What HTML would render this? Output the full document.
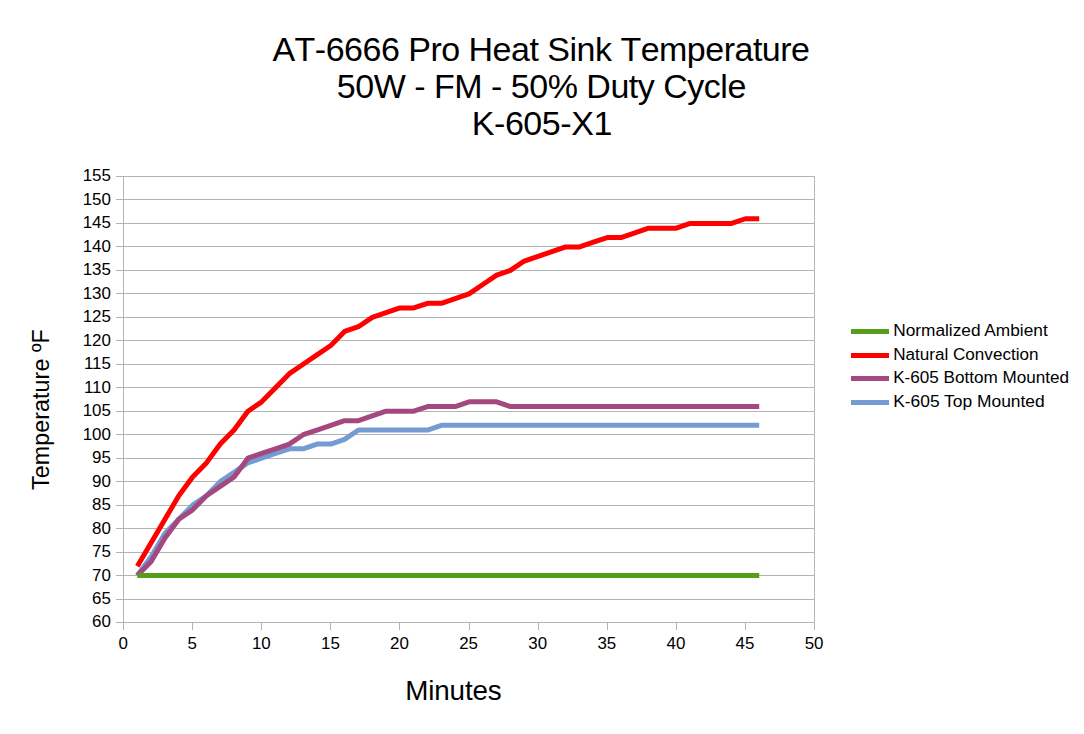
<!DOCTYPE html>
<html lang="en"><head><meta charset="utf-8"><title>AT-6666 Pro Heat Sink Temperature</title>
<style>
html,body{margin:0;padding:0;background:#fff;}
body{width:1084px;height:734px;overflow:hidden;}
svg{display:block;font-family:"Liberation Sans",Arial,sans-serif;fill:#000;}
.ax{font-size:16.6px;}
.lg{font-size:16px;}
</style></head><body>
<svg width="1084" height="734" viewBox="0 0 1084 734">
<rect width="1084" height="734" fill="#fff"/>

<g font-size="34">
<text x="272.4" y="60.8" textLength="537.6" lengthAdjust="spacing" style="font-kerning:none">AT-6666 Pro Heat Sink Temperature</text>
<text x="336.8" y="97.6" textLength="409.5" lengthAdjust="spacing">50W - FM - 50% Duty Cycle</text>
<text x="471.8" y="134.6" textLength="140.5" lengthAdjust="spacing">K-605-X1</text>
</g>

<g stroke="#b3b3b3" stroke-width="1" fill="none" shape-rendering="crispEdges">
<line x1="116.0" y1="622.50" x2="814.5" y2="622.50"/>
<line x1="116.0" y1="599.03" x2="814.5" y2="599.03"/>
<line x1="116.0" y1="575.55" x2="814.5" y2="575.55"/>
<line x1="116.0" y1="552.08" x2="814.5" y2="552.08"/>
<line x1="116.0" y1="528.61" x2="814.5" y2="528.61"/>
<line x1="116.0" y1="505.13" x2="814.5" y2="505.13"/>
<line x1="116.0" y1="481.66" x2="814.5" y2="481.66"/>
<line x1="116.0" y1="458.18" x2="814.5" y2="458.18"/>
<line x1="116.0" y1="434.71" x2="814.5" y2="434.71"/>
<line x1="116.0" y1="411.24" x2="814.5" y2="411.24"/>
<line x1="116.0" y1="387.76" x2="814.5" y2="387.76"/>
<line x1="116.0" y1="364.29" x2="814.5" y2="364.29"/>
<line x1="116.0" y1="340.82" x2="814.5" y2="340.82"/>
<line x1="116.0" y1="317.34" x2="814.5" y2="317.34"/>
<line x1="116.0" y1="293.87" x2="814.5" y2="293.87"/>
<line x1="116.0" y1="270.39" x2="814.5" y2="270.39"/>
<line x1="116.0" y1="246.92" x2="814.5" y2="246.92"/>
<line x1="116.0" y1="223.45" x2="814.5" y2="223.45"/>
<line x1="116.0" y1="199.97" x2="814.5" y2="199.97"/>
<line x1="116.0" y1="176.50" x2="814.5" y2="176.50"/>
<line x1="123.50" y1="622.5" x2="123.50" y2="629.5"/>
<line x1="192.60" y1="622.5" x2="192.60" y2="629.5"/>
<line x1="261.70" y1="622.5" x2="261.70" y2="629.5"/>
<line x1="330.80" y1="622.5" x2="330.80" y2="629.5"/>
<line x1="399.90" y1="622.5" x2="399.90" y2="629.5"/>
<line x1="469.00" y1="622.5" x2="469.00" y2="629.5"/>
<line x1="538.10" y1="622.5" x2="538.10" y2="629.5"/>
<line x1="607.20" y1="622.5" x2="607.20" y2="629.5"/>
<line x1="676.30" y1="622.5" x2="676.30" y2="629.5"/>
<line x1="745.40" y1="622.5" x2="745.40" y2="629.5"/>
<line x1="814.50" y1="622.5" x2="814.50" y2="629.5"/>
<line x1="123.5" y1="176.5" x2="123.5" y2="629.5"/>
<line x1="814.5" y1="176.5" x2="814.5" y2="629.5"/>
</g>

<g class="ax" text-anchor="end">
<text transform="translate(110.9,627) scale(1.02,1)">60</text>
<text transform="translate(110.9,604) scale(1.02,1)">65</text>
<text transform="translate(110.9,581) scale(1.02,1)">70</text>
<text transform="translate(110.9,557) scale(1.02,1)">75</text>
<text transform="translate(110.9,534) scale(1.02,1)">80</text>
<text transform="translate(110.9,510) scale(1.02,1)">85</text>
<text transform="translate(110.9,487) scale(1.02,1)">90</text>
<text transform="translate(110.9,463) scale(1.02,1)">95</text>
<text transform="translate(110.9,440) scale(1.02,1)">100</text>
<text transform="translate(110.9,416) scale(1.02,1)">105</text>
<text transform="translate(110.9,393) scale(1.02,1)">110</text>
<text transform="translate(110.9,369) scale(1.02,1)">115</text>
<text transform="translate(110.9,346) scale(1.02,1)">120</text>
<text transform="translate(110.9,322) scale(1.02,1)">125</text>
<text transform="translate(110.9,299) scale(1.02,1)">130</text>
<text transform="translate(110.9,275) scale(1.02,1)">135</text>
<text transform="translate(110.9,252) scale(1.02,1)">140</text>
<text transform="translate(110.9,228) scale(1.02,1)">145</text>
<text transform="translate(110.9,205) scale(1.02,1)">150</text>
<text transform="translate(110.9,181) scale(1.02,1)">155</text>
</g>

<g class="ax" text-anchor="middle">
<text transform="translate(123.1,649) scale(1.02,1)">0</text>
<text transform="translate(192.2,649) scale(1.02,1)">5</text>
<text transform="translate(261.3,649) scale(1.02,1)">10</text>
<text transform="translate(330.4,649) scale(1.02,1)">15</text>
<text transform="translate(399.5,649) scale(1.02,1)">20</text>
<text transform="translate(468.6,649) scale(1.02,1)">25</text>
<text transform="translate(537.7,649) scale(1.02,1)">30</text>
<text transform="translate(606.8,649) scale(1.02,1)">35</text>
<text transform="translate(675.9,649) scale(1.02,1)">40</text>
<text transform="translate(745.0,649) scale(1.02,1)">45</text>
<text transform="translate(814.1,649) scale(1.02,1)">50</text>
</g>

<g fill="none" stroke-width="5" stroke-linejoin="round" stroke-linecap="butt">
<polyline stroke="#749bd2" points="137.32,575.55 151.14,556.77 164.96,533.30 178.78,519.22 192.60,505.13 206.42,495.74 220.24,481.66 234.06,472.27 247.88,462.88 261.70,458.18 275.52,453.49 289.34,448.79 303.16,448.79 316.98,444.10 330.80,444.10 344.62,439.41 358.44,430.02 372.26,430.02 386.08,430.02 399.90,430.02 413.72,430.02 427.54,430.02 441.36,425.32 455.18,425.32 469.00,425.32 482.82,425.32 496.64,425.32 510.46,425.32 524.28,425.32 538.10,425.32 551.92,425.32 565.74,425.32 579.56,425.32 593.38,425.32 607.20,425.32 621.02,425.32 634.84,425.32 648.66,425.32 662.48,425.32 676.30,425.32 690.12,425.32 703.94,425.32 717.76,425.32 731.58,425.32 745.40,425.32 759.22,425.32"/>
<polyline stroke="#a54880" points="137.32,575.55 151.14,561.47 164.96,537.99 178.78,519.22 192.60,509.83 206.42,495.74 220.24,486.35 234.06,476.96 247.88,458.18 261.70,453.49 275.52,448.79 289.34,444.10 303.16,434.71 316.98,430.02 330.80,425.32 344.62,420.63 358.44,420.63 372.26,415.93 386.08,411.24 399.90,411.24 413.72,411.24 427.54,406.54 441.36,406.54 455.18,406.54 469.00,401.85 482.82,401.85 496.64,401.85 510.46,406.54 524.28,406.54 538.10,406.54 551.92,406.54 565.74,406.54 579.56,406.54 593.38,406.54 607.20,406.54 621.02,406.54 634.84,406.54 648.66,406.54 662.48,406.54 676.30,406.54 690.12,406.54 703.94,406.54 717.76,406.54 731.58,406.54 745.40,406.54 759.22,406.54"/>
<polyline stroke="#ff0000" points="137.32,566.16 151.14,542.69 164.96,519.22 178.78,495.74 192.60,476.96 206.42,462.88 220.24,444.10 234.06,430.02 247.88,411.24 261.70,401.85 275.52,387.76 289.34,373.68 303.16,364.29 316.98,354.90 330.80,345.51 344.62,331.43 358.44,326.73 372.26,317.34 386.08,312.65 399.90,307.95 413.72,307.95 427.54,303.26 441.36,303.26 455.18,298.56 469.00,293.87 482.82,284.48 496.64,275.09 510.46,270.39 524.28,261.01 538.10,256.31 551.92,251.62 565.74,246.92 579.56,246.92 593.38,242.23 607.20,237.53 621.02,237.53 634.84,232.84 648.66,228.14 662.48,228.14 676.30,228.14 690.12,223.45 703.94,223.45 717.76,223.45 731.58,223.45 745.40,218.75 759.22,218.75"/>
<polyline stroke="#579d1c" points="137.32,575.55 151.14,575.55 164.96,575.55 178.78,575.55 192.60,575.55 206.42,575.55 220.24,575.55 234.06,575.55 247.88,575.55 261.70,575.55 275.52,575.55 289.34,575.55 303.16,575.55 316.98,575.55 330.80,575.55 344.62,575.55 358.44,575.55 372.26,575.55 386.08,575.55 399.90,575.55 413.72,575.55 427.54,575.55 441.36,575.55 455.18,575.55 469.00,575.55 482.82,575.55 496.64,575.55 510.46,575.55 524.28,575.55 538.10,575.55 551.92,575.55 565.74,575.55 579.56,575.55 593.38,575.55 607.20,575.55 621.02,575.55 634.84,575.55 648.66,575.55 662.48,575.55 676.30,575.55 690.12,575.55 703.94,575.55 717.76,575.55 731.58,575.55 745.40,575.55 759.22,575.55"/>
</g>

<g class="lg">
<line x1="851" y1="331.5" x2="889" y2="331.5" stroke="#579d1c" stroke-width="5"/>
<text x="893.2" y="336.3" textLength="154.5" lengthAdjust="spacingAndGlyphs">Normalized Ambient</text>
<line x1="851" y1="355.5" x2="889" y2="355.5" stroke="#ff0000" stroke-width="5"/>
<text x="893.2" y="360.3" textLength="145.3" lengthAdjust="spacingAndGlyphs">Natural Convection</text>
<line x1="851" y1="378.5" x2="889" y2="378.5" stroke="#a54880" stroke-width="5"/>
<text x="893.2" y="383.3" textLength="175.8" lengthAdjust="spacingAndGlyphs">K-605 Bottom Mounted</text>
<line x1="851" y1="402.5" x2="889" y2="402.5" stroke="#749bd2" stroke-width="5"/>
<text x="893.2" y="407.3" textLength="151.5" lengthAdjust="spacingAndGlyphs">K-605 Top Mounted</text>
</g>

<text x="405.2" y="699.8" font-size="27.8" textLength="96.5" lengthAdjust="spacing">Minutes</text>
<text transform="translate(49.4,490) rotate(-90)" font-size="23.3" textLength="160.8" lengthAdjust="spacing">Temperature ºF</text>
</svg></body></html>
